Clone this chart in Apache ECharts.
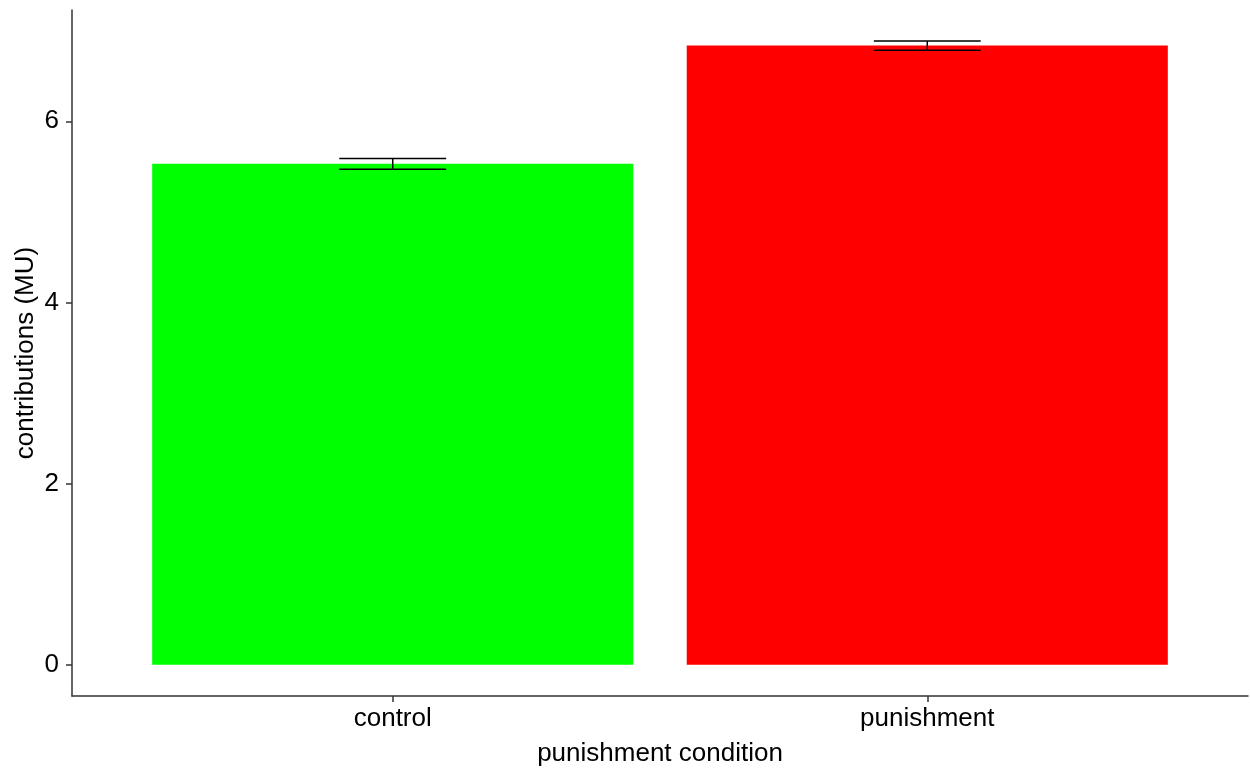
<!DOCTYPE html>
<html>
<head>
<meta charset="utf-8">
<script src="https://cdn.jsdelivr.net/npm/echarts@6/dist/echarts.min.js"></script>
<style>
  html, body { margin: 0; padding: 0; background: #fff; }
  #main { width: 1250px; height: 772px; }
</style>
</head>
<body>
<div id="main"></div>
<script>
const categories = ['control', 'punishment'];
const means = [5.53, 6.835];
const errors = [0.06, 0.05];
const barColors = ['#00FF00', '#FF0000'];
const yTicks = [0, 2, 4, 6];

const fontFamily = '"Liberation Sans", Arial, sans-serif';
const chart = echarts.init(document.getElementById('main'));

// categories sit at x = 1, 2 on a continuous axis (ggplot-style padding)
const seriesData = categories.map((c, i) => [i + 1, means[i], errors[i]]);

const renderBar = (params, api) => {
  const x = api.value(0);
  const m = api.value(1);
  const e = api.value(2);
  const tl = api.coord([x - 0.45, m]);
  const br = api.coord([x + 0.45, 0]);
  const hi = api.coord([x, m + e]);
  const lo = api.coord([x, m - e]);
  const capL = api.coord([x - 0.1, m])[0];
  const capR = api.coord([x + 0.1, m])[0];
  const lineStyle = { stroke: '#000', lineWidth: 1.5 };
  return {
    type: 'group',
    children: [
      {
        type: 'rect',
        shape: { x: tl[0], y: tl[1], width: br[0] - tl[0], height: br[1] - tl[1] },
        style: { fill: barColors[params.dataIndex] }
      },
      { type: 'line', shape: { x1: capL, y1: hi[1], x2: capR, y2: hi[1] }, style: lineStyle },
      { type: 'line', shape: { x1: capL, y1: lo[1], x2: capR, y2: lo[1] }, style: lineStyle },
      { type: 'line', shape: { x1: hi[0], y1: hi[1], x2: lo[0], y2: lo[1] }, style: lineStyle }
    ]
  };
};

const option = {
  backgroundColor: '#fff',
  animation: false,
  grid: { left: 72, right: 2, top: 10, bottom: 76 },
  xAxis: {
    type: 'value',
    min: 0.4,
    max: 2.6,
    name: 'punishment condition',
    nameLocation: 'middle',
    nameGap: 45,
    nameMoveOverlap: false,
    nameTextStyle: { color: '#000', fontSize: 26, fontFamily },
    axisLine: { show: true, onZero: false, lineStyle: { color: '#333', width: 1.5 } },
    axisTick: { show: true, length: 6, customValues: [1, 2], lineStyle: { color: '#333', width: 1.5 } },
    axisLabel: {
      customValues: [1, 2],
      formatter: v => categories[Math.round(v) - 1] || '',
      color: '#000',
      fontSize: 26,
      fontFamily,
      margin: 10
    },
    splitLine: { show: false }
  },
  yAxis: {
    type: 'value',
    min: -0.344,
    max: 7.228,
    name: 'contributions (MU)',
    nameLocation: 'middle',
    nameGap: 33,
    nameMoveOverlap: false,
    nameTextStyle: { color: '#000', fontSize: 26, fontFamily },
    axisLine: { show: true, onZero: false, lineStyle: { color: '#333', width: 1.5 } },
    axisTick: { show: true, length: 6, customValues: yTicks, lineStyle: { color: '#333', width: 1.5 } },
    axisLabel: {
      customValues: yTicks,
      color: '#000',
      fontSize: 26,
      fontFamily,
      margin: 13
    },
    splitLine: { show: false }
  },
  series: [
    {
      type: 'custom',
      renderItem: renderBar,
      encode: { x: 0, y: 1 },
      data: seriesData
    }
  ]
};
chart.setOption(option);
</script>
</body>
</html>
